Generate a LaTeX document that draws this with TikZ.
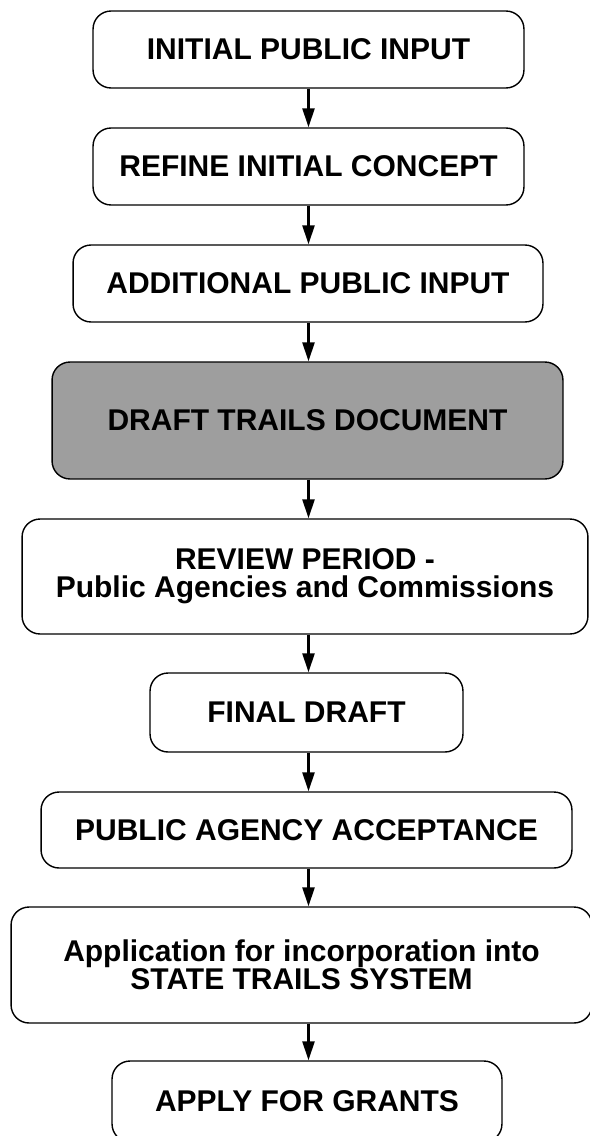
\documentclass[tikz,border=0pt]{standalone}
\usepackage{fontspec}
\setmainfont{Liberation Sans}
\usetikzlibrary{arrows.meta}

\tikzset{
  stagebox/.style={draw, line width=0.8pt, rounded corners=0.36cm, inner sep=0pt,
    align=center, font=\bfseries\fontsize{17.07}{16}\selectfont},
  shadedbox/.style={stagebox, fill=black!38},
  flow/.style={->, line width=1.4pt}
}

\begin{document}
\begin{tikzpicture}[x=0.02cm, y=-0.02cm, >={Triangle[length=0.38cm,width=0.24cm]}]
    \useasboundingbox (0,0) rectangle (589,1136);

    \node[stagebox, minimum width=8.62cm, minimum height=1.54cm] (initial) at (308.5, 49.5) {INITIAL PUBLIC INPUT};
    \node[stagebox, minimum width=8.62cm, minimum height=1.54cm] (refine) at (308.5, 166.5) {REFINE INITIAL CONCEPT};
    \node[stagebox, minimum width=9.4cm, minimum height=1.54cm] (additional) at (308, 283.5) {ADDITIONAL PUBLIC INPUT};
    \node[shadedbox, minimum width=10.22cm, minimum height=2.34cm] (draft) at (307.5, 420.5) {DRAFT TRAILS DOCUMENT};
    \node[stagebox, minimum width=11.32cm, minimum height=2.3cm] (review) at (305, 576.5) {REVIEW PERIOD -\\Public Agencies and Commissions};
    \node[stagebox, minimum width=6.26cm, minimum height=1.58cm] (final) at (306.5, 712.5) {FINAL DRAFT};
    \node[stagebox, minimum width=10.62cm, minimum height=1.52cm] (accept) at (306.5, 830) {PUBLIC AGENCY ACCEPTANCE};
    \node[stagebox, minimum width=11.62cm, minimum height=2.32cm] (apply) at (301.5, 965) {Application for incorporation into\\STATE TRAILS SYSTEM};
    \node[stagebox, minimum width=7.8cm, minimum height=1.62cm] (grants) at (307, 1101.5) {APPLY FOR GRANTS};

    \draw[flow] (initial.south -| initial) -- (refine.north -| initial);
    \draw[flow] (refine.south -| initial) -- (additional.north -| initial);
    \draw[flow] (additional.south -| initial) -- (draft.north -| initial);
    \draw[flow] (draft.south -| initial) -- (review.north -| initial);
    \draw[flow] (review.south -| initial) -- (final.north -| initial);
    \draw[flow] (final.south -| initial) -- (accept.north -| initial);
    \draw[flow] (accept.south -| initial) -- (apply.north -| initial);
    \draw[flow] (apply.south -| initial) -- (grants.north -| initial);
\end{tikzpicture}
\end{document}
